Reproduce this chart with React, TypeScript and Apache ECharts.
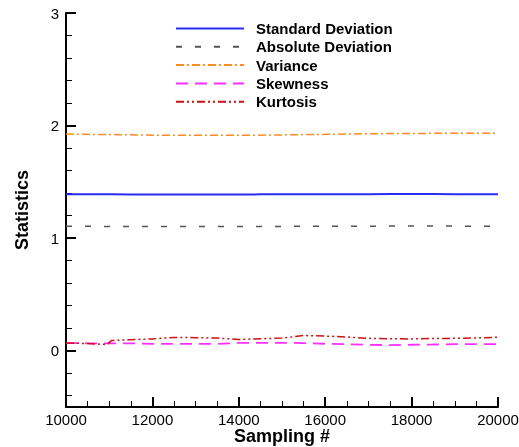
import React, { useEffect, useRef } from "react";
import * as echarts from "echarts";

const samples = [10000, 10500, 10950, 11050, 11500, 12000, 12500, 13000, 13500, 14000, 14500, 15000, 15500, 16000, 16500, 17000, 17500, 18000, 18500, 19000, 19500, 20000];

const stdDev = [1.390, 1.389, 1.389, 1.389, 1.388, 1.388, 1.388, 1.388, 1.388, 1.388, 1.389, 1.389, 1.390, 1.390, 1.391, 1.391, 1.392, 1.392, 1.392, 1.391, 1.391, 1.391];
const absDev = [1.106, 1.105, 1.104, 1.104, 1.103, 1.103, 1.103, 1.103, 1.103, 1.103, 1.104, 1.104, 1.105, 1.105, 1.106, 1.106, 1.107, 1.107, 1.107, 1.107, 1.106, 1.106];
const variance = [1.926, 1.922, 1.920, 1.920, 1.918, 1.915, 1.914, 1.914, 1.913, 1.914, 1.915, 1.917, 1.920, 1.922, 1.925, 1.927, 1.929, 1.930, 1.931, 1.931, 1.932, 1.932];
const skewness = [0.068, 0.066, 0.066, 0.066, 0.066, 0.060, 0.060, 0.060, 0.060, 0.070, 0.070, 0.070, 0.068, 0.062, 0.058, 0.052, 0.050, 0.053, 0.055, 0.058, 0.058, 0.058];
const kurtosis = [0.068, 0.064, 0.055, 0.090, 0.098, 0.105, 0.118, 0.116, 0.112, 0.100, 0.106, 0.112, 0.135, 0.130, 0.122, 0.110, 0.106, 0.105, 0.108, 0.110, 0.114, 0.120];

const yMajorTicks = [0, 1, 2, 3];
const yMinorTicks = [-0.4, -0.2, 0.2, 0.4, 0.6, 0.8, 1.2, 1.4, 1.6, 1.8, 2.2, 2.4, 2.6, 2.8];

const seriesNames = ["Standard Deviation", "Absolute Deviation", "Variance", "Skewness", "Kurtosis"];

export default function App() {
  const ref = useRef<HTMLDivElement>(null);
  useEffect(() => {
    if (!ref.current) return;
    const chart = echarts.init(ref.current, null, { renderer: "svg" });
    const font = "'Liberation Sans', Arial, Helvetica, sans-serif";
    const pair = (vals: number[]) => samples.map((x, i) => [x, vals[i]]);
    const mk = (name: string, vals: number[], color: string, width: number, type: any) => ({
      name,
      type: "line",
      data: pair(vals),
      symbol: "none",
      showSymbol: false,
      yAxisIndex: 0,
      lineStyle: { color, width, type },
      itemStyle: { color },
    });
    chart.setOption({
      animation: false,
      textStyle: { fontFamily: font },
      grid: { left: 66, right: 21, top: 13, bottom: 40, containLabel: false, outerBoundsMode: "none" },
      legend: {
        orient: "vertical",
        left: 170,
        top: 16,
        itemWidth: 68,
        itemHeight: 12,
        itemGap: 3.3,
        data: seriesNames,
        itemStyle: { opacity: 0 },
        textStyle: { fontFamily: font, fontSize: 15, fontWeight: "bold", color: "#000", padding: [0, 0, 0, 7] },
      },
      xAxis: {
        type: "value",
        min: 10000,
        max: 20000,
        interval: 2000,
        name: "Sampling #",
        nameLocation: "middle",
        nameGap: 20,
        nameMoveOverlap: false,
        nameTextStyle: { fontFamily: font, fontSize: 18, lineHeight: 18, fontWeight: "bold", color: "#000" },
        axisLine: { show: true, onZero: false, lineStyle: { color: "#000", width: 2 } },
        axisTick: { show: true, inside: true, length: 10, lineStyle: { color: "#000", width: 2 } },
        minorTick: { show: true, splitNumber: 4, length: 6, lineStyle: { color: "#000", width: 1 } },
        axisLabel: { fontFamily: font, fontSize: 15, lineHeight: 15, color: "#000", margin: 5, showMaxLabel: true, showMinLabel: true, formatter: (v: number) => String(v) },
        splitLine: { show: false },
      },
      yAxis: [
        {
          type: "value",
          min: -0.5,
          max: 3,
          position: "left",
          name: "Statistics",
          nameLocation: "middle",
          nameGap: 35,
          nameMoveOverlap: false,
          nameTextStyle: { fontFamily: font, fontSize: 18, fontWeight: "bold", color: "#000" },
          axisLine: { show: true, onZero: false, lineStyle: { color: "#000", width: 2 } },
          axisTick: { show: true, inside: true, length: 10, customValues: yMajorTicks, lineStyle: { color: "#000", width: 2 } },
          axisLabel: { customValues: yMajorTicks, fontFamily: font, fontSize: 15, color: "#000", margin: 7, formatter: (v: number) => String(v) },
          splitLine: { show: false },
        },
        {
          type: "value",
          min: -0.5,
          max: 3,
          position: "left",
          axisLine: { show: false },
          axisTick: { show: true, inside: true, length: 6, customValues: yMinorTicks, lineStyle: { color: "#000", width: 1 } },
          axisLabel: { show: false },
          splitLine: { show: false },
        },
      ],
      series: [
        mk(seriesNames[0], stdDev, "#2b2bf5", 2, "solid"),
        mk(seriesNames[1], absDev, "#555555", 1.5, [6, 13]),
        mk(seriesNames[2], variance, "#ff8a1e", 1.5, [8, 3, 2, 3]),
        mk(seriesNames[3], skewness, "#ff2dff", 1.8, [12, 7]),
        mk(seriesNames[4], kurtosis, "#cc1111", 1.5, [8, 3, 2, 3, 2, 3]),
      ],
    });
    return () => chart.dispose();
  }, []);
  return <div ref={ref} style={{ position: "fixed", left: 0, top: 0, width: 519, height: 447 }} />;
}
